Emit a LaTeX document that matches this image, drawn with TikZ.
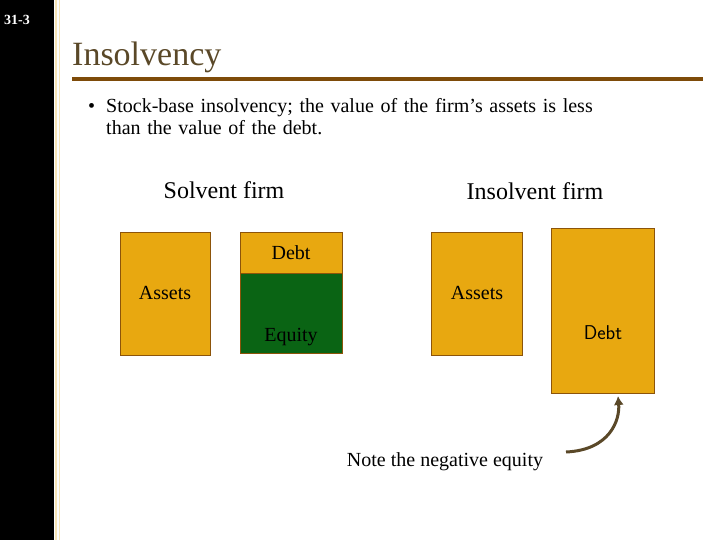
\documentclass[tikz,border=0pt]{standalone}
\usepackage{fontspec}
\setmainfont{Liberation Serif}
\usetikzlibrary{arrows.meta}
\begin{document}
\begin{tikzpicture}[x=1pt,y=-1pt]
\definecolor{gold}{RGB}{232,168,16}
\definecolor{bord}{RGB}{140,84,10}
\definecolor{eq}{RGB}{10,100,20}
\definecolor{ttl}{RGB}{90,72,40}
\tikzset{box/.style={draw=bord,line width=1.2pt,fill=gold,inner sep=0,anchor=north west},
  txt/.style={font=\fontsize{20}{24}\selectfont,inner sep=0pt}}
\useasboundingbox (0,0) rectangle (720,540);
\fill[black] (0,0) rectangle (54,540);
\fill[white!70!gold] (55,0) rectangle (60,540);
\fill[white] (56.5,0) rectangle (58.5,540);
\node[anchor=west,text=white,font=\fontsize{14}{16}\selectfont\bfseries,inner sep=0] (num) at (4,20) {31-3};
\node[anchor=base west,text=ttl,font=\fontsize{34}{40}\selectfont,inner sep=0] (title) at (72,66) {Insolvency};
\fill[bord!90!black] (72,77) rectangle (703,81);
\node[anchor=base west,txt] (b) at (88,113) {\textbullet};
\node[anchor=base west,txt,align=left,text width=590] (bt) at (106,113) {Stock-base insolvency; the value of the firm’s assets is less\\[-2pt]than the value of the debt.};
\node[txt,font=\fontsize{24}{28}\selectfont] (s) at (224,190) {Solvent firm};
\node[txt,font=\fontsize{24}{28}\selectfont] (i) at (535,191) {Insolvent firm};
\node[box,minimum width=90,minimum height=123] (a1) at (120,232) {};
\node[box,minimum width=102,minimum height=41] (d1) at (240,232) {};
\node[box,fill=eq,minimum width=102,minimum height=80] (e1) at (240,273) {};
\node[box,minimum width=91,minimum height=123] (a2) at (431,232) {};
\node[box,minimum width=103,minimum height=165] (d2) at (551,228) {};
\node[txt] at (165,293) {Assets};
\node[txt] at (291,253) {Debt};
\node[txt] at (291,337) {Equity};
\node[txt] at (477,293) {Assets};
\node[txt,font=\fontsize{20}{24}\sffamily] at (603,333) {Debt};
\node[txt] (n) at (445,462) {Note the negative equity};
\coordinate (ns) at (566,452);
\coordinate (ne) at (618,396);
\draw[ttl,line width=3pt,-{Latex[length=9pt,width=10pt]}] (ns) .. controls (610,450) and (620,420) .. (ne);
\end{tikzpicture}
\end{document}
